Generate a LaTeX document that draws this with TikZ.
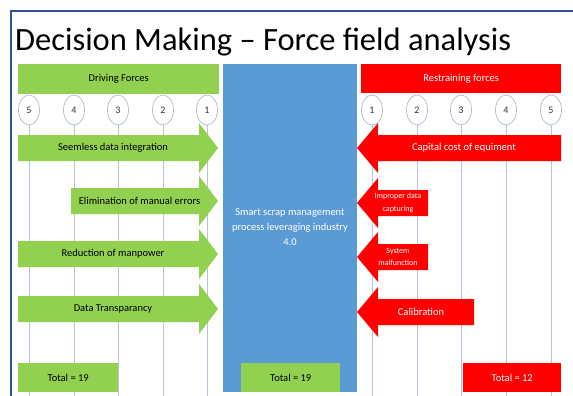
\documentclass[tikz,border=0pt]{standalone}
\usepackage{fontspec}
\setmainfont{Carlito}
\usetikzlibrary{shapes.geometric}
\definecolor{drivegreen}{HTML}{92D050}
\definecolor{centreblue}{HTML}{5B9BD5}
\definecolor{restrainred}{HTML}{FF0000}
\definecolor{framecol}{HTML}{2F5597}
\definecolor{gridcol}{HTML}{B4C4DE}
\tikzset{
  band/.style={anchor=north west,inner sep=0pt,font=\fontsize{10.5}{12}\selectfont},
  rate/.style={ellipse,draw=gridcol!90!black,line width=0.6pt,fill=white,minimum width=21pt,minimum height=30pt,inner sep=0pt,text=black!80,font=\fontsize{10}{11}\selectfont},
  drivelbl/.style={text=black,font=\fontsize{10.5}{12}\selectfont,inner sep=1pt},
  restrainlbl/.style={text=white,font=\fontsize{10.5}{12}\selectfont,inner sep=1pt,align=center},
  totalbox/.style={anchor=north west,inner sep=0pt,minimum height=29pt,font=\fontsize{10.5}{12}\selectfont}
}
\begin{document}
\begin{tikzpicture}[x=1pt,y=-1pt]
\useasboundingbox (0,0) rectangle (573,396);
\coordinate (bottom) at (0,396);
\draw[framecol,line width=2.5pt] (11,396) -- (11,11) -- (573,11);
\node[anchor=base west,inner sep=0pt,font=\fontsize{32.5}{36}\selectfont] (title) at (15,51) {Decision Making -- Force field analysis};

\node[band,fill=drivegreen,minimum width=201pt,minimum height=30pt] (drive) at (18,64) {Driving Forces};
\node[band,fill=centreblue,minimum width=134pt,minimum height=328pt] (centre) at (223,64) {};
\node[band,fill=restrainred,text=white,minimum width=200pt,minimum height=29pt] (restrain) at (361,64) {Restraining forces};

\foreach \n/\x in {5/29,4/74,3/118,2/163,1/207}{
  \node[rate] (dl\n) at (\x,110) {\n};
  \draw[gridcol,line width=0.7pt] (dl\n.south) -- (dl\n.south |- bottom);
}
\foreach \n/\x in {1/372,2/417,3/461,4/506,5/551}{
  \node[rate] (rl\n) at (\x,110) {\n};
  \draw[gridcol,line width=0.7pt] (rl\n.south) -- (rl\n.south |- bottom);
}

\foreach \yc/\xl/\lbl [count=\k] in {148/18/Seemless data integration,201/71/Elimination of manual errors,254/18/Reduction of manpower,309/18/Data Transparancy}{
  \fill[drivegreen] (\xl,\yc-13) -- (199,\yc-13) -- (199,\yc-25) -- (218,\yc) -- (199,\yc+25) -- (199,\yc+13) -- (\xl,\yc+13) -- cycle;
  \node[drivelbl] (da\k) at ({(\xl+208)/2},\yc) {\lbl};
}
\foreach \yc/\xr in {148/561,203/428,257/428,312/474}{
  \fill[restrainred] (\xr,\yc-13) -- (378,\yc-13) -- (378,\yc-25) -- (357,\yc) -- (378,\yc+25) -- (378,\yc+13) -- (\xr,\yc+13) -- cycle;
}
\node[restrainlbl] (ra1) at (464,148) {Capital cost of equiment};
\node[restrainlbl,font=\fontsize{8}{12.5}\selectfont] (ra2) at (398,203) {Improper data\\capturing};
\node[restrainlbl,font=\fontsize{8}{12.5}\selectfont] (ra3) at (398,257) {System\\malfunction};
\node[restrainlbl] (ra4) at (421,312) {Calibration};

\node[text=white,align=center,font=\fontsize{10.5}{15}\selectfont,inner sep=0pt] (goal) at (290,227) {Smart scrap management\\process leveraging industry\\4.0};

\node[totalbox,fill=drivegreen,minimum width=100pt] (drivetotal) at (18,363) {Total = 19};
\node[totalbox,fill=drivegreen,minimum width=99pt] (centretotal) at (241,363) {Total = 19};
\node[totalbox,fill=restrainred,text=white,minimum width=98pt] (restraintotal) at (463,363) {Total = 12};
\end{tikzpicture}
\end{document}
